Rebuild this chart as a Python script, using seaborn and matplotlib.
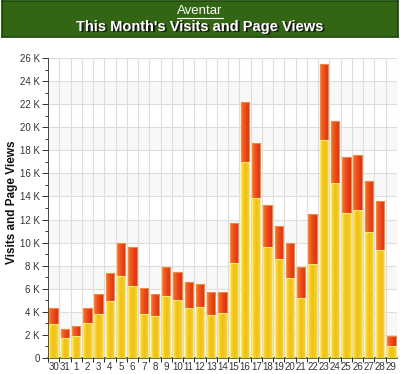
import numpy as np
import pandas as pd
import matplotlib
matplotlib.use("Agg")
import matplotlib.pyplot as plt
import seaborn as sns
from matplotlib.colors import LinearSegmentedColormap
from matplotlib.ticker import MultipleLocator, FuncFormatter

# data (values in thousands)
days = ["30", "31"] + [str(d) for d in range(1, 30)]
page_views = [4.3, 2.5, 2.8, 4.3, 5.55, 7.33, 9.93, 9.58, 6.1, 5.55, 7.9, 7.47, 6.6, 6.4, 5.69, 5.69,
              11.66, 22.2, 18.6, 13.3, 11.45, 9.93, 7.85, 12.5, 25.45, 20.5, 17.4, 17.6, 15.35, 13.6, 1.9]
visits = [2.94, 1.7, 1.9, 3.0, 3.78, 4.93, 7.13, 6.23, 3.78, 3.66, 5.4, 5.02, 4.35, 4.44, 3.72, 3.87,
          8.2, 17.0, 13.85, 9.6, 8.57, 6.9, 5.17, 8.14, 18.9, 15.2, 12.6, 12.8, 10.9, 9.35, 1.07]

df = pd.DataFrame({"day": days,
                   "views": np.array(page_views) * 1000,
                   "visits": np.array(visits) * 1000})

sns.set_theme(style="white")
plt.rcParams["font.family"] = ["Liberation Sans", "DejaVu Sans"]

fig = plt.figure(figsize=(4.0, 3.74), dpi=100)

# green header banner
banner = fig.add_axes([0.004, 1 - 37 / 374, 0.992, 36 / 374])
banner.set_facecolor("#336614")
for s in banner.spines.values():
    s.set_color("#1e4a0a")
banner.set_xticks([])
banner.set_yticks([])
banner.text(0.5, 0.72, "Aventar", color="white", fontsize=9.5, ha="center", va="center",
            transform=banner.transAxes)
banner.plot([0.443, 0.557], [0.52, 0.52], color="white", lw=0.8, transform=banner.transAxes)
banner.text(0.503, 0.24, "This Month's Visits and Page Views", color="#1a1a1a", fontsize=10.5,
            fontweight="bold", ha="center", va="center", transform=banner.transAxes)
banner.text(0.5, 0.27, "This Month's Visits and Page Views", color="white", fontsize=10.5,
            fontweight="bold", ha="center", va="center", transform=banner.transAxes)

ax = fig.add_axes([48 / 400, 16 / 374, 349 / 400, 300 / 374])

sns.barplot(data=df, x="day", y="views", order=days, color="#e84818", width=0.74,
            edgecolor="#f08a40", linewidth=0.8, ax=ax, zorder=3)
sns.barplot(data=df, x="day", y="visits", order=days, color="#f5cf1a", width=0.74,
            edgecolor="#fbe870", linewidth=0.8, ax=ax, zorder=4)

# horizontal gradients on bars
red_cmap = LinearSegmentedColormap.from_list("r", ["#f07a2a", "#ea4a18", "#e42a10"])
yel_cmap = LinearSegmentedColormap.from_list("y", ["#f8e048", "#f2bf12", "#f6d630"])
n = len(days)
grad = np.linspace(0, 1, 64).reshape(1, -1)
for i, p in enumerate(ax.patches):
    cmap = red_cmap if i < n else yel_cmap
    x0, y0 = p.get_x(), p.get_y()
    w, h = p.get_width(), p.get_height()
    im = ax.imshow(grad, cmap=cmap, aspect="auto", extent=[x0, x0 + w, y0, y0 + h],
                   zorder=p.get_zorder() + 0.1, interpolation="bilinear")
    im.set_clip_path(p)
    p.set_facecolor("none")
    p.set_zorder(p.get_zorder() + 0.2)

ax.set_xlim(-0.5, n - 0.5)
ax.set_ylim(0, 26000)

# faint alternating bands and grid
for k in range(0, 26000, 4000):
    ax.axhspan(k + 2000, k + 4000, color="#f8f8f8", zorder=0, lw=0)
for k in range(2000, 26001, 2000):
    ax.axhline(k, color="#dddddd", lw=0.8, zorder=1)
for k in range(n):
    ax.axvline(k + 0.5, color="#dddddd", lw=0.8, zorder=1)

ax.yaxis.set_major_locator(MultipleLocator(2000))
ax.yaxis.set_minor_locator(MultipleLocator(1000))
ax.yaxis.set_major_formatter(FuncFormatter(lambda v, _: "0" if v == 0 else f"{int(v / 1000)} K"))
ax.tick_params(axis="y", which="major", length=4, width=0.7, color="#333333",
               labelsize=7, labelcolor="#333333", pad=2, left=True)
ax.tick_params(axis="y", which="minor", length=2.5, width=0.7, color="#333333", left=True)
ax.set_xticks(np.arange(n) - 0.5, minor=True)
ax.tick_params(axis="x", which="minor", length=3, width=0.7, color="#222222", bottom=True)
ax.tick_params(axis="x", which="major", length=0, labelsize=7, labelcolor="#333333", pad=3)

for s in ["top", "right"]:
    ax.spines[s].set_visible(False)
ax.spines["left"].set_color("#444444")
ax.spines["left"].set_linewidth(0.7)
ax.spines["bottom"].set_color("#3d5a20")
ax.spines["bottom"].set_linewidth(1.2)

ax.set_xlabel("")
ax.set_ylabel("Visits and Page Views", fontsize=8.5, fontweight="bold", color="#111111")
ax.yaxis.set_label_coords(-0.085, 0.52)

fig.savefig("out.png", dpi=100)
